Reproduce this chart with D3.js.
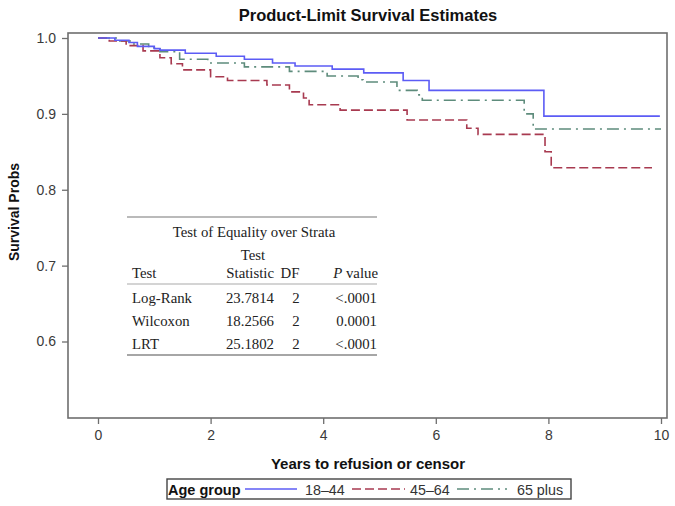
<!DOCTYPE html>
<html>
<head>
<meta charset="utf-8">
<script src="https://cdn.jsdelivr.net/npm/d3@7"></script>
<style>
  body { margin: 0; background: #fff; }
  svg { display: block; }
</style>
</head>
<body>
<svg id="chart" width="675" height="506"></svg>
<script>
// ---- data ----
const groups = ["18\u201344", "45\u201364", "65 plus"];
const colors = ["#5c5cf5", "#a83a50", "#5e8c7c"];
const dashes = [null, "9,4", "12,5,2,5"];

const t1844 = [0, 0.3, 0.55, 0.7, 1.0, 1.1, 1.55, 2.1, 2.6, 3.1, 3.5, 4.16, 4.72, 5.42, 5.88, 7.92, 9.98];
const s1844 = [1.0, 0.997, 0.994, 0.989, 0.986, 0.984, 0.980, 0.976, 0.972, 0.967, 0.963, 0.959, 0.954, 0.944, 0.931, 0.897, 0.897];

const t4564 = [0, 0.2, 0.5, 0.8, 1.1, 1.3, 1.5, 2.0, 2.3, 3.0, 3.4, 3.65, 3.75, 4.30, 5.49, 6.55, 6.75, 7.94, 8.05, 9.84];
const s4564 = [1.0, 0.996, 0.990, 0.983, 0.974, 0.966, 0.958, 0.949, 0.944, 0.938, 0.929, 0.921, 0.912, 0.905, 0.892, 0.881, 0.873, 0.850, 0.829, 0.829];

const t65 = [0, 0.35, 0.6, 0.9, 1.1, 1.45, 1.95, 2.6, 3.4, 4.07, 4.62, 4.71, 5.31, 5.67, 5.76, 7.57, 7.73, 10.0];
const s65 = [1.0, 0.996, 0.992, 0.987, 0.982, 0.972, 0.967, 0.962, 0.956, 0.950, 0.945, 0.942, 0.931, 0.925, 0.918, 0.900, 0.880, 0.880];

const xTicks = [0, 2, 4, 6, 8, 10];
const yTicks = [0.6, 0.7, 0.8, 0.9, 1.0];

const tableTitle = "Test of Equality over Strata";
const tableTests = ["Log-Rank", "Wilcoxon", "LRT"];
const tableStats = ["23.7814", "18.2566", "25.1802"];
const tableDF = ["2", "2", "2"];
const tableP = ["<.0001", "0.0001", "<.0001"];

// ---- layout ----
const svg = d3.select("#chart");
const plot = { left: 68, right: 667, top: 33, bottom: 418 };

const x = d3.scaleLinear().domain([0, 10]).range([98, 661]);
const y = d3.scaleLinear().domain([0.6, 1.0]).range([341.5, 38]);

const sans = "Liberation Sans, Arial, Helvetica, sans-serif";
const serif = "Liberation Serif, Times New Roman, serif";

// frame
svg.append("rect")
  .attr("x", plot.left).attr("y", plot.top)
  .attr("width", plot.right - plot.left).attr("height", plot.bottom - plot.top)
  .attr("fill", "none").attr("stroke", "#6e6e6e").attr("stroke-width", 1.6);

// axes
const xAxis = svg.append("g").attr("transform", `translate(0,${plot.bottom})`)
  .call(d3.axisBottom(x).tickValues(xTicks).tickFormat(d3.format("d")).tickSize(6).tickPadding(6));
const yAxis = svg.append("g").attr("transform", `translate(${plot.left},0)`)
  .call(d3.axisLeft(y).tickValues(yTicks).tickFormat(d3.format(".1f")).tickSize(6).tickPadding(6));
[xAxis, yAxis].forEach(g => {
  g.select(".domain").remove();
  g.selectAll(".tick line").attr("stroke", "#6e6e6e").attr("stroke-width", 1.3);
  g.selectAll(".tick text").attr("fill", "#3a3a3a").style("font-family", sans).style("font-size", "14px");
});

// curves
const series = [
  { t: t1844, s: s1844 },
  { t: t4564, s: s4564 },
  { t: t65, s: s65 }
];
const line = d3.line().x(d => x(d[0])).y(d => y(d[1])).curve(d3.curveStepAfter);
[2, 1, 0].forEach(i => {
  const pts = series[i].t.map((tt, k) => [tt, series[i].s[k]]);
  svg.append("path")
    .attr("d", line(pts))
    .attr("fill", "none")
    .attr("stroke", colors[i])
    .attr("stroke-width", 1.6)
    .attr("stroke-dasharray", dashes[i]);
});

// titles
svg.append("text").attr("x", 368).attr("y", 21).attr("text-anchor", "middle")
  .style("font-family", sans).style("font-weight", "bold").style("font-size", "16.5px")
  .attr("fill", "#111").text("Product-Limit Survival Estimates");
svg.append("text").attr("x", 368).attr("y", 469).attr("text-anchor", "middle")
  .style("font-family", sans).style("font-weight", "bold").style("font-size", "15px")
  .attr("fill", "#111").text("Years to refusion or censor");
svg.append("text").attr("transform", "translate(19,212) rotate(-90)").attr("text-anchor", "middle")
  .style("font-family", sans).style("font-weight", "bold").style("font-size", "14px")
  .attr("fill", "#111").text("Survival Probs");

// table
const tb = svg.append("g");
const tLeft = 127, tRight = 377;
tb.append("line").attr("x1", tLeft).attr("x2", tRight).attr("y1", 217).attr("y2", 217)
  .attr("stroke", "#777").attr("stroke-width", 1.2);
const tf = (sel) => sel.style("font-family", serif).style("font-size", "14.8px").attr("fill", "#222");
tf(tb.append("text").attr("x", (tLeft + tRight) / 2 + 2).attr("y", 237).attr("text-anchor", "middle").text(tableTitle));
tf(tb.append("text").attr("x", 253).attr("y", 260).attr("text-anchor", "middle").text("Test"));
tf(tb.append("text").attr("x", 132).attr("y", 278).text("Test"));
tf(tb.append("text").attr("x", 274).attr("y", 278).attr("text-anchor", "end").text("Statistic"));
tf(tb.append("text").attr("x", 290).attr("y", 278).attr("text-anchor", "middle").text("DF"));
const pv = tf(tb.append("text").attr("x", 378).attr("y", 278).attr("text-anchor", "end"));
pv.append("tspan").style("font-style", "italic").text("P");
pv.append("tspan").text(" value");
tb.append("line").attr("x1", tLeft).attr("x2", tRight).attr("y1", 284).attr("y2", 284)
  .attr("stroke", "#aaa").attr("stroke-width", 1.2);
const rowY = [303, 326, 349];
tableTests.forEach((name, i) => {
  tf(tb.append("text").attr("x", 132).attr("y", rowY[i]).text(name));
  tf(tb.append("text").attr("x", 274).attr("y", rowY[i]).attr("text-anchor", "end").text(tableStats[i]));
  tf(tb.append("text").attr("x", 296).attr("y", rowY[i]).attr("text-anchor", "middle").text(tableDF[i]));
  tf(tb.append("text").attr("x", 377).attr("y", rowY[i]).attr("text-anchor", "end").text(tableP[i]));
});
tb.append("line").attr("x1", tLeft).attr("x2", tRight).attr("y1", 355).attr("y2", 355)
  .attr("stroke", "#888").attr("stroke-width", 1.6);

// legend
const lg = svg.append("g");
lg.append("rect").attr("x", 167).attr("y", 479).attr("width", 404).attr("height", 20)
  .attr("fill", "#fff").attr("stroke", "#444").attr("stroke-width", 1.4);
lg.append("text").attr("x", 168).attr("y", 495)
  .style("font-family", sans).style("font-weight", "bold").style("font-size", "14.5px")
  .attr("fill", "#111").text("Age group");
const legItems = [
  { x1: 245, x2: 297, tx: 305 },
  { x1: 352, x2: 405, tx: 410 },
  { x1: 457, x2: 507, tx: 517 }
];
groups.forEach((g, i) => {
  lg.append("line").attr("x1", legItems[i].x1).attr("x2", legItems[i].x2)
    .attr("y1", 489).attr("y2", 489)
    .attr("stroke", colors[i]).attr("stroke-width", 1.6)
    .attr("stroke-dasharray", dashes[i]);
  lg.append("text").attr("x", legItems[i].tx).attr("y", 495)
    .style("font-family", sans).style("font-size", "14.3px").attr("fill", "#333").text(g);
});
</script>
</body>
</html>
